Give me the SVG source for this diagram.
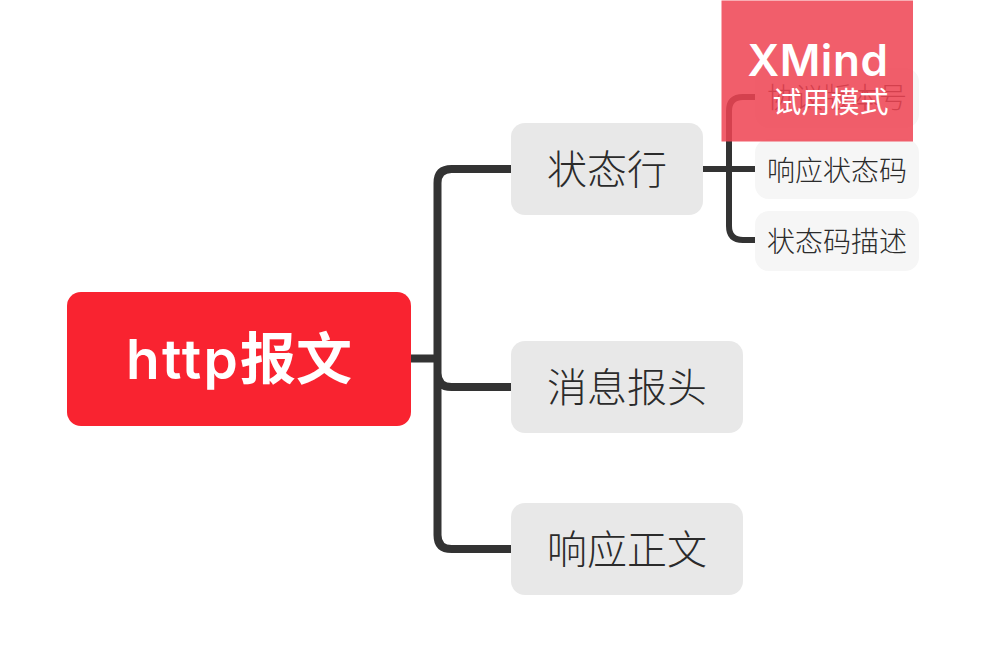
<svg xmlns="http://www.w3.org/2000/svg" width="986" height="662" viewBox="0 0 986 662">
<style>
text{font-family:"Noto Sans CJK SC","Liberation Sans",sans-serif;text-anchor:middle}
.l1{fill:#e8e8e8}
.t1{font-size:40px;font-weight:300;fill:#2b2b2b}
.l2{fill:#f6f6f6}
.t2{font-size:28px;font-weight:300;fill:#2b2b2b}
.c1{fill:none;stroke:#333;stroke-width:8}
.c2{fill:none;stroke:#333;stroke-width:6}
</style>
<rect width="986" height="662" fill="#fff"/>
<g id="connectors">
<path class="c1" d="M411 358.500H437.500M511 169H451.500Q437.500 169 437.500 183V535Q437.500 549 451.500 549H511M437.500 373Q437.500 387 451.500 387H511"/>
<path class="c2" d="M703 169H755M755 97H743Q729 97 729 111V226Q729 240 743 240H755"/>
</g>
<g id="root"><rect x="67" y="292" width="344" height="134" rx="14" fill="#f92330"/><text x="239" y="379" font-size="56" font-weight="700" fill="#fff"><tspan style="font-family:Inter,'Liberation Sans',sans-serif" font-weight="600" font-size="55" letter-spacing="2.200">http</tspan>报文</text></g>
<g id="n1"><rect class="l1" x="511" y="123" width="192" height="92" rx="14"/><text class="t1" x="607" y="184">状态行</text></g>
<g id="n2"><rect class="l1" x="511" y="341" width="232" height="92" rx="14"/><text class="t1" x="627" y="402">消息报头</text></g>
<g id="n3"><rect class="l1" x="511" y="503" width="232" height="92" rx="14"/><text class="t1" x="627" y="564">响应正文</text></g>
<g id="n11"><rect class="l2" x="755" y="68" width="164" height="60" rx="14"/><text class="t2" x="837" y="108">协议版本号</text></g>
<g id="n12"><rect class="l2" x="755" y="139" width="164" height="60" rx="14"/><text class="t2" x="837" y="181">响应状态码</text></g>
<g id="n13"><rect class="l2" x="755" y="211" width="164" height="60" rx="14"/><text class="t2" x="837" y="252">状态码描述</text></g>
<g id="watermark"><rect x="721.500" y="0.500" width="191.500" height="141" fill="#ef4453" fill-opacity=".86"/>
<text x="818" y="76" font-size="44" font-weight="600" letter-spacing=".6" fill="#fff" style="font-family:Inter,'Liberation Sans',sans-serif">XMind</text>
<text x="830.500" y="113" font-size="29" font-weight="400" fill="#fff">试用模式</text></g>
</svg>
